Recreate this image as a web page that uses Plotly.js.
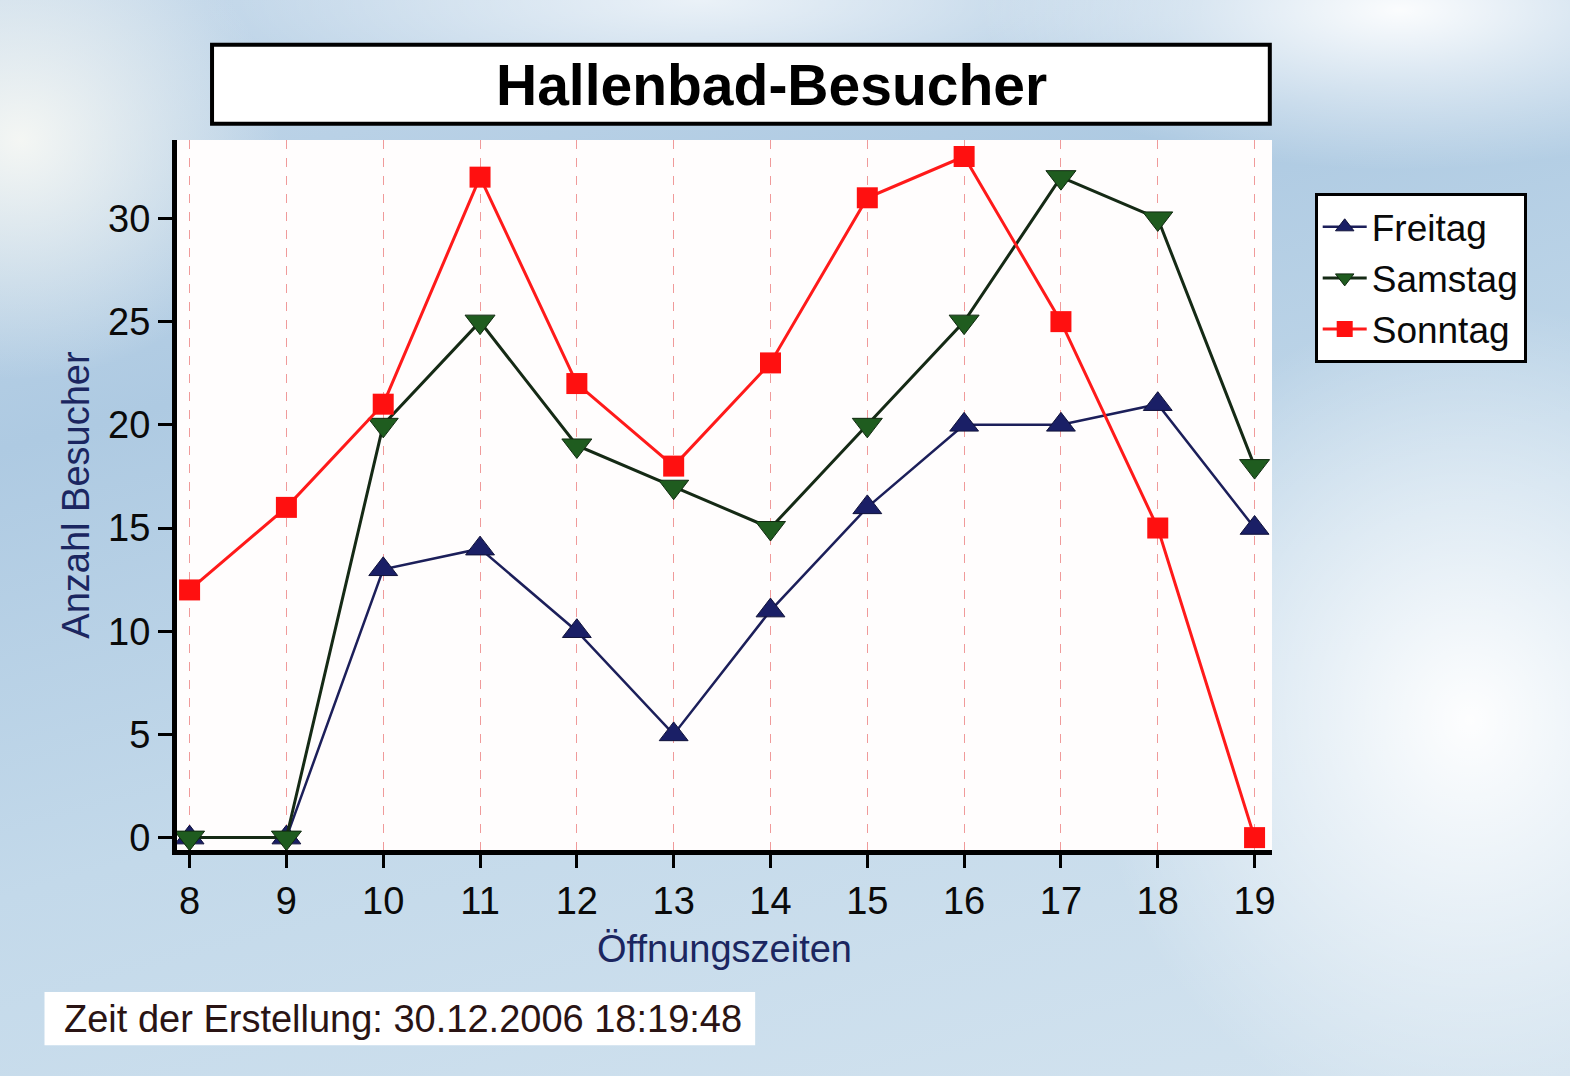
<!DOCTYPE html>
<html>
<head>
<meta charset="utf-8">
<script src="https://cdn.plot.ly/plotly-3.0.1.min.js"></script>
<style>
html,body{margin:0;padding:0;width:1570px;height:1076px;overflow:hidden;}
body{
 background:
  radial-gradient(ellipse 380px 420px at 1470px 720px, rgba(255,255,255,0.97), rgba(255,255,255,0) 100%),
  radial-gradient(ellipse 260px 240px at 20px 140px, rgba(250,250,245,0.9), rgba(255,255,255,0) 100%),
  radial-gradient(ellipse 420px 160px at 1400px 10px, rgba(255,255,255,0.95), rgba(255,255,255,0) 100%),
  radial-gradient(ellipse 500px 120px at 700px 0px, rgba(255,255,255,0.7), rgba(255,255,255,0) 100%),
  linear-gradient(165deg, #c4d8ea 0%, #aecae2 30%, #c3d9ea 60%, #d3e3ef 100%);
}
#chart{width:1570px;height:1076px;}
</style>
</head>
<body>
<div id="chart"></div>
<script>
const hours = [8, 9, 10, 11, 12, 13, 14, 15, 16, 17, 18, 19];
const freitag = [0, 0, 13, 14, 10, 5, 11, 16, 20, 20, 21, 15];
const samstag = [0, 0, 20, 25, 19, 17, 15, 20, 25, 32, 30, 18];
const sonntag = [12, 16, 21, 32, 22, 18, 23, 31, 33, 25, 15, 0];
const seriesNames = ["Freitag", "Samstag", "Sonntag"];
const yTicks = [0, 5, 10, 15, 20, 25, 30];

const traces = [
  {x: hours, y: freitag, name: seriesNames[0], mode: "lines+markers",
   line: {color: "#1c1f5a", width: 2.5},
   marker: {symbol: "triangle-up", size: 25, color: "#1a1f66", line: {color: "#10123a", width: 1}}},
  {x: hours, y: samstag, name: seriesNames[1], mode: "lines+markers",
   line: {color: "#152a15", width: 3},
   marker: {symbol: "triangle-down", size: 26, color: "#1f5c1f", line: {color: "#102a10", width: 1}}},
  {x: hours, y: sonntag, name: seriesNames[2], mode: "lines+markers",
   line: {color: "#ff1a1a", width: 3},
   marker: {symbol: "square", size: 21, color: "#ff1010"}}
];

const layout = {
  width: 1570, height: 1076,
  paper_bgcolor: "rgba(0,0,0,0)",
  plot_bgcolor: "#fffdfd",
  margin: {l: 177, r: 298, t: 140, b: 226},
  font: {family: "Liberation Sans, Arial, sans-serif", color: "#111"},
  showlegend: true,
  legend: {
    x: 1.039, y: 0.925, xanchor: "left", yanchor: "top",
    bgcolor: "#ffffff", bordercolor: "#000", borderwidth: 3,
    font: {size: 37, color: "#0a0a0a"},
    itemwidth: 44,
    tracegroupgap: 0
  },
  xaxis: {
    range: [7.87, 19.18],
    tickmode: "array", tickvals: hours, ticktext: hours.map(String),
    ticks: "outside", ticklen: 13, tickwidth: 3, tickcolor: "#000",
    tickfont: {size: 38, color: "#0a0a0a"},
    showline: true, linecolor: "#000", linewidth: 5,
    showgrid: true, gridcolor: "#f09a9a", gridwidth: 1, griddash: "dash",
    zeroline: false,
    title: {text: "Öffnungszeiten", font: {size: 38, color: "#1b2660"}, standoff: 16}
  },
  yaxis: {
    range: [-0.6, 33.8],
    tickmode: "array", tickvals: yTicks, ticktext: yTicks.map(String),
    ticks: "outside", ticklen: 14, tickwidth: 3, tickcolor: "#000",
    tickfont: {size: 38, color: "#0a0a0a"},
    showline: true, linecolor: "#000", linewidth: 5,
    showgrid: false, zeroline: false,
    title: {text: "Anzahl Besucher", font: {size: 38, color: "#1b2660"}, standoff: 8}
  },
  shapes: [
    {type: "rect", xref: "paper", yref: "paper", layer: "above",
     x0: 0.032, x1: 0.998, y0: 1.023, y1: 1.134,
     fillcolor: "#ffffff", line: {color: "#000", width: 4}},
    {type: "rect", xref: "paper", yref: "paper", layer: "above",
     x0: -0.121, x1: 0.528, y0: -0.20, y1: -0.275,
     fillcolor: "#ffffff", line: {width: 0}}
  ],
  annotations: [
    {text: "<b>Hallenbad-Besucher</b>", xref: "paper", yref: "paper",
     x: 0.5425, y: 1.078, xanchor: "center", yanchor: "middle",
     showarrow: false, font: {size: 57, color: "#000"}},
    {text: "Zeit der Erstellung: 30.12.2006 18:19:48", xref: "paper", yref: "paper",
     x: -0.105, y: -0.2375, xanchor: "left", yanchor: "middle",
     showarrow: false, font: {size: 38, color: "#2a1414"}}
  ]
};

Plotly.newPlot("chart", traces, layout, {displayModeBar: false, staticPlot: true});
</script>
</body>
</html>
